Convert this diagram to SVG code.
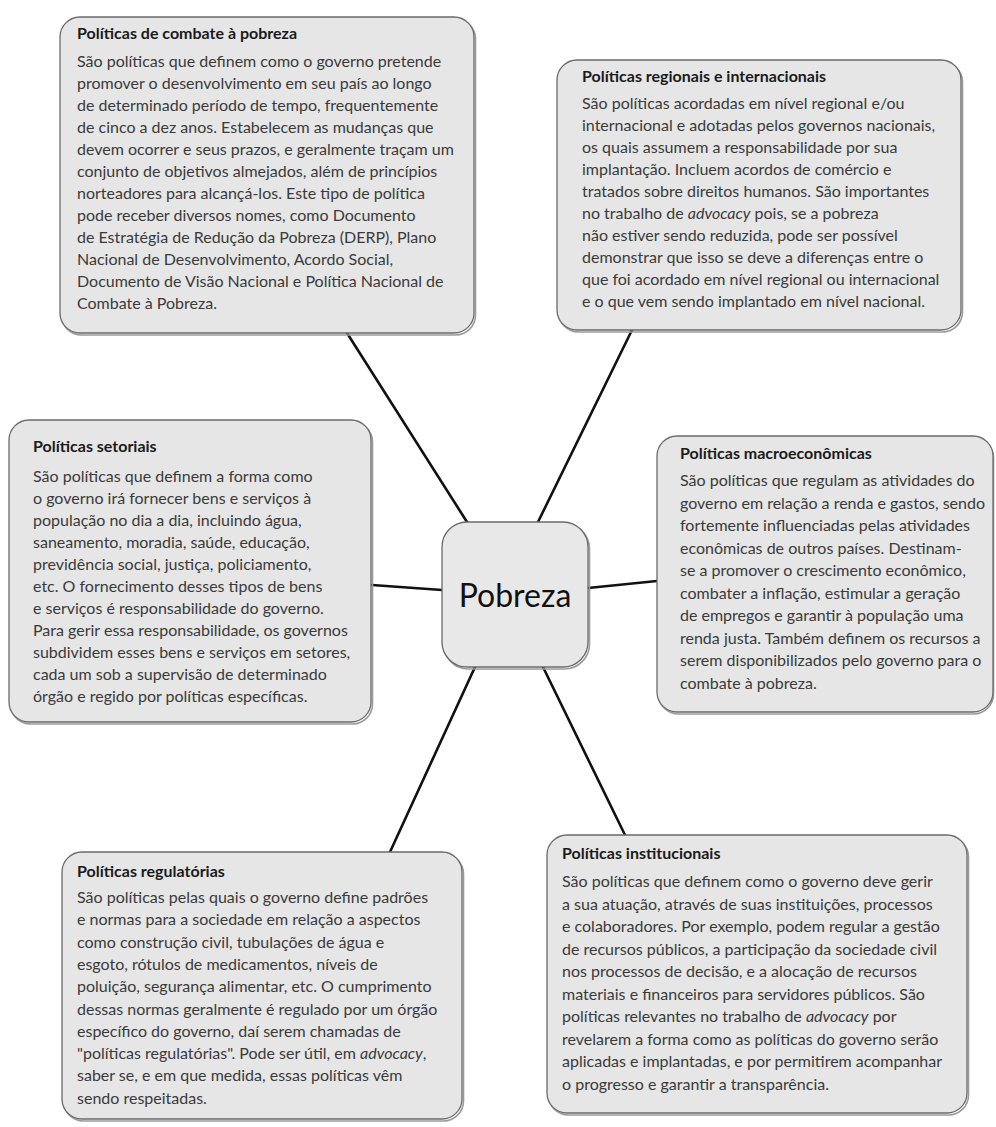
<svg xmlns="http://www.w3.org/2000/svg" width="996" height="1127" viewBox="0 0 996 1127">
<style>
.bg{fill:#ffffff}
.sh{fill:none;stroke:#9a9a9a;stroke-width:1.6}
.box{fill:#e6e6e6;stroke:#6a6a6a;stroke-width:1.3}
.t{font-family:Lato,"Liberation Sans",sans-serif;font-weight:700;font-size:16px;fill:#1a1a1a}
.b{font-family:Lato,"Liberation Sans",sans-serif;font-size:16px;fill:#3a3a3a}
.c{font-family:Lato,"Liberation Sans",sans-serif;font-size:32px;fill:#111}
.conn{stroke:#111;stroke-width:2.6;stroke-linecap:round;fill:none}
</style>
<rect class="bg" x="0" y="0" width="996" height="1127"/>
<g id="connectors">
<line class="conn" x1="467" y1="522" x2="347" y2="333"/>
<line class="conn" x1="538" y1="522" x2="632" y2="330"/>
<line class="conn" x1="442" y1="590" x2="372" y2="585"/>
<line class="conn" x1="588" y1="588" x2="657" y2="581"/>
<line class="conn" x1="475" y1="667" x2="390" y2="852"/>
<line class="conn" x1="543" y1="667" x2="625" y2="835"/>
</g>
<g id="node-combate">
<rect class="sh" x="61.5" y="19" width="414" height="316" rx="20"/>
<rect class="box" x="60" y="17" width="414" height="316" rx="20"/>
<text class="t" x="77" y="39">Políticas de combate à pobreza</text>
<text class="b" x="77" y="67">São políticas que definem como o governo pretende</text>
<text class="b" x="77" y="89">promover o desenvolvimento em seu país ao longo</text>
<text class="b" x="77" y="111">de determinado período de tempo, frequentemente</text>
<text class="b" x="77" y="133">de cinco a dez anos. Estabelecem as mudanças que</text>
<text class="b" x="77" y="155">devem ocorrer e seus prazos, e geralmente traçam um</text>
<text class="b" x="77" y="177">conjunto de objetivos almejados, além de princípios</text>
<text class="b" x="77" y="199">norteadores para alcançá-los. Este tipo de política</text>
<text class="b" x="77" y="221">pode receber diversos nomes, como Documento</text>
<text class="b" x="77" y="243">de Estratégia de Redução da Pobreza (DERP), Plano</text>
<text class="b" x="77" y="265">Nacional de Desenvolvimento, Acordo Social,</text>
<text class="b" x="77" y="287">Documento de Visão Nacional e Política Nacional de</text>
<text class="b" x="77" y="309">Combate à Pobreza.</text>
</g>
<g id="node-regionais">
<rect class="sh" x="558.5" y="62" width="404" height="270" rx="20"/>
<rect class="box" x="557" y="60" width="404" height="270" rx="20"/>
<text class="t" x="582" y="82">Políticas regionais e internacionais</text>
<text class="b" x="582" y="109">São políticas acordadas em nível regional e/ou</text>
<text class="b" x="582" y="131">internacional e adotadas pelos governos nacionais,</text>
<text class="b" x="582" y="153">os quais assumem a responsabilidade por sua</text>
<text class="b" x="582" y="175">implantação. Incluem acordos de comércio e</text>
<text class="b" x="582" y="197">tratados sobre direitos humanos. São importantes</text>
<text class="b" x="582" y="219">no trabalho de <tspan font-style="italic">advocacy</tspan> pois, se a pobreza</text>
<text class="b" x="582" y="241">não estiver sendo reduzida, pode ser possível</text>
<text class="b" x="582" y="263">demonstrar que isso se deve a diferenças entre o</text>
<text class="b" x="582" y="285">que foi acordado em nível regional ou internacional</text>
<text class="b" x="582" y="307">e o que vem sendo implantado em nível nacional.</text>
</g>
<g id="node-setoriais">
<rect class="sh" x="10.5" y="422" width="362" height="302" rx="20"/>
<rect class="box" x="9" y="420" width="362" height="302" rx="20"/>
<text class="t" x="33" y="452">Políticas setoriais</text>
<text class="b" x="33" y="482">São políticas que definem a forma como</text>
<text class="b" x="33" y="504">o governo irá fornecer bens e serviços à</text>
<text class="b" x="33" y="526">população no dia a dia, incluindo água,</text>
<text class="b" x="33" y="548">saneamento, moradia, saúde, educação,</text>
<text class="b" x="33" y="570">previdência social, justiça, policiamento,</text>
<text class="b" x="33" y="592">etc. O fornecimento desses tipos de bens</text>
<text class="b" x="33" y="614">e serviços é responsabilidade do governo.</text>
<text class="b" x="33" y="636">Para gerir essa responsabilidade, os governos</text>
<text class="b" x="33" y="658">subdividem esses bens e serviços em setores,</text>
<text class="b" x="33" y="680">cada um sob a supervisão de determinado</text>
<text class="b" x="33" y="702">órgão e regido por políticas específicas.</text>
</g>
<g id="node-pobreza">
<rect class="sh" x="443.5" y="524" width="146" height="145" rx="25"/>
<rect class="box" x="442" y="522" width="146" height="145" rx="25" style="fill:#e8e8e8"/>
<text class="c" x="515" y="607" text-anchor="middle">Pobreza</text>
</g>
<g id="node-macro">
<rect class="sh" x="658.5" y="438" width="335" height="276" rx="20"/>
<rect class="box" x="657" y="436" width="336" height="276" rx="20"/>
<text class="t" x="680" y="459">Políticas macroeconômicas</text>
<text class="b" x="680" y="486">São políticas que regulam as atividades do</text>
<text class="b" x="680" y="508.5">governo em relação a renda e gastos, sendo</text>
<text class="b" x="680" y="531">fortemente influenciadas pelas atividades</text>
<text class="b" x="680" y="553.5">econômicas de outros países. Destinam-</text>
<text class="b" x="680" y="576">se a promover o crescimento econômico,</text>
<text class="b" x="680" y="598.5">combater a inflação, estimular a geração</text>
<text class="b" x="680" y="621">de empregos e garantir à população uma</text>
<text class="b" x="680" y="643.5">renda justa. Também definem os recursos a</text>
<text class="b" x="680" y="666">serem disponibilizados pelo governo para o</text>
<text class="b" x="680" y="688.5">combate à pobreza.</text>
</g>
<g id="node-regulatorias">
<rect class="sh" x="63.5" y="854" width="400" height="267" rx="20"/>
<rect class="box" x="62" y="852" width="400" height="267" rx="20"/>
<text class="t" x="77" y="877">Políticas regulatórias</text>
<text class="b" x="77" y="903">São políticas pelas quais o governo define padrões</text>
<text class="b" x="77" y="925.3">e normas para a sociedade em relação a aspectos</text>
<text class="b" x="77" y="947.6">como construção civil, tubulações de água e</text>
<text class="b" x="77" y="969.9">esgoto, rótulos de medicamentos, níveis de</text>
<text class="b" x="77" y="992.2">poluição, segurança alimentar, etc. O cumprimento</text>
<text class="b" x="77" y="1014.5">dessas normas geralmente é regulado por um órgão</text>
<text class="b" x="77" y="1036.8">específico do governo, daí serem chamadas de</text>
<text class="b" x="77" y="1059.1">"políticas regulatórias". Pode ser útil, em <tspan font-style="italic">advocacy</tspan>,</text>
<text class="b" x="77" y="1081.4">saber se, e em que medida, essas políticas vêm</text>
<text class="b" x="77" y="1103.7">sendo respeitadas.</text>
</g>
<g id="node-institucionais">
<rect class="sh" x="548.5" y="837" width="420" height="278" rx="20"/>
<rect class="box" x="547" y="835" width="420" height="278" rx="20"/>
<text class="t" x="562" y="859">Políticas institucionais</text>
<text class="b" x="562" y="887">São políticas que definem como o governo deve gerir</text>
<text class="b" x="562" y="909.5">a sua atuação, através de suas instituições, processos</text>
<text class="b" x="562" y="932">e colaboradores. Por exemplo, podem regular a gestão</text>
<text class="b" x="562" y="954.5">de recursos públicos, a participação da sociedade civil</text>
<text class="b" x="562" y="977">nos processos de decisão, e a alocação de recursos</text>
<text class="b" x="562" y="999.5">materiais e financeiros para servidores públicos. São</text>
<text class="b" x="562" y="1022">políticas relevantes no trabalho de <tspan font-style="italic">advocacy</tspan> por</text>
<text class="b" x="562" y="1044.5">revelarem a forma como as políticas do governo serão</text>
<text class="b" x="562" y="1067">aplicadas e implantadas, e por permitirem acompanhar</text>
<text class="b" x="562" y="1089.5">o progresso e garantir a transparência.</text>
</g>
</svg>
